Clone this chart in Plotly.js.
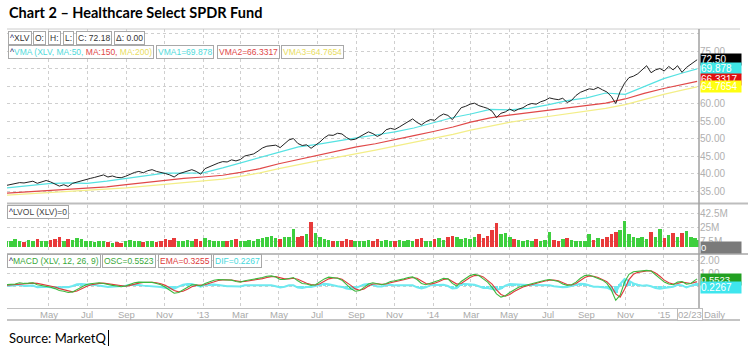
<!DOCTYPE html>
<html><head><meta charset="utf-8">
<script src="https://cdn.plot.ly/plotly-3.0.1.min.js"></script>
<style>html,body{margin:0;padding:0;background:#fff}#chart{width:750px;height:353px}</style>
</head><body><div id="chart"></div>
<script>
// ---------- DATA ----------
const firstWeek = '2012-02-24';
const lastDay = '2015-02-23';
const price = [
36.6,36.9,37.1,37.4,37.3,37.6,37.8,37.2,37.7,38.0,
37.6,37.1,36.4,36.8,36.3,37.2,37.6,37.9,38.4,38.6,
38.9,39.3,39.6,39.0,39.3,38.9,38.8,39.2,39.8,40.3,
40.6,40.2,40.8,41.1,40.6,40.4,40.0,39.6,39.0,39.9,
40.3,40.5,41.1,40.6,39.8,41.4,42.0,42.6,43.0,43.4,
43.3,43.9,43.6,44.0,45.0,45.3,45.6,46.4,47.3,47.8,
47.9,48.1,47.4,48.6,49.6,50.0,48.6,48.0,48.2,47.2,
48.0,49.0,50.2,51.0,50.9,51.5,51.3,50.3,49.6,49.8,
50.5,51.3,51.9,51.4,50.6,51.2,52.5,52.9,52.6,53.3,
54.1,54.9,55.6,54.6,53.9,54.8,55.4,55.2,56.3,57.0,
56.6,55.4,57.0,58.8,59.2,59.8,60.1,59.4,59.0,58.6,
57.8,56.0,57.2,57.6,58.4,57.8,58.4,58.8,59.6,60.0,
59.8,60.5,60.9,61.6,61.3,61.1,61.5,60.3,60.9,62.3,
63.2,63.7,64.2,64.0,64.6,63.9,63.3,62.0,60.0,63.4,
65.8,67.4,67.8,68.5,69.8,70.8,68.8,69.6,70.0,69.3,
70.6,69.6,70.8,68.9,70.3,71.2,72.0,72.5];
const volumeM = [
7,8,10,7,6,9,7,10,8,7,
9,10,12,8,10,9,11,10,8,7,
6,8,7,6,5,6,5,7,9,8,
7,6,7,8,6,7,10,9,11,7,
8,9,7,10,8,11,9,8,7,8,
7,9,10,8,7,9,8,10,11,12,
14,11,10,13,12,22,13,14,16,31,
18,12,10,9,8,7,8,10,9,8,
7,8,9,7,10,8,9,7,8,9,
8,9,7,10,11,8,7,10,11,9,
12,14,13,10,11,10,12,16,11,14,
21,30,16,18,12,10,9,8,9,8,
10,8,9,19,9,8,10,11,9,8,
7,8,16,9,11,10,12,16,19,21,
33,16,13,11,12,10,19,13,23,11,
15,17,13,17,20,12,11,9];
const macdOsc = [
0.1,0.1,0.15,0.25,0.2,0.22,0.25,0.1,0.05,0.0,
-0.1,-0.2,-0.35,-0.4,-0.5,-0.45,-0.25,-0.05,0.1,0.18,
0.22,0.25,0.2,0.1,0.05,0.0,-0.05,0.0,0.15,0.25,
0.3,0.3,0.3,0.28,0.2,0.1,-0.1,-0.3,-0.55,-0.5,
-0.3,-0.1,0.1,0.1,0.0,0.2,0.35,0.45,0.5,0.5,
0.45,0.45,0.35,0.3,0.4,0.45,0.5,0.55,0.65,0.75,
0.78,0.7,0.5,0.5,0.6,0.65,0.4,0.2,0.15,0.05,
0.1,0.3,0.55,0.68,0.65,0.6,0.45,0.1,-0.2,-0.4,
-0.35,-0.1,0.15,0.25,0.15,0.1,0.2,0.35,0.4,0.45,
0.55,0.65,0.7,0.5,0.2,0.1,0.2,0.3,0.45,0.6,
0.55,0.2,0.0,0.35,0.6,0.8,0.9,0.8,0.55,0.3,
-0.1,-0.6,-0.85,-0.75,-0.5,-0.3,-0.1,0.0,0.1,0.2,
0.3,0.35,0.45,0.5,0.45,0.35,0.15,0.05,0.1,0.3,
0.6,0.8,0.85,0.7,0.6,0.45,0.2,-0.3,-1.1,-0.7,
0.3,0.9,1.1,1.15,1.15,1.2,1.15,0.85,0.55,0.3,
0.15,0.1,0.3,0.35,0.15,0.2,0.45,0.55];
const macdEma = [
0.05,0.08,0.1,0.15,0.2,0.2,0.22,0.2,0.13,0.06,
0.0,-0.08,-0.2,-0.3,-0.4,-0.45,-0.38,-0.2,-0.05,0.08,
0.15,0.2,0.22,0.17,0.1,0.05,0.0,-0.02,0.05,0.15,
0.22,0.27,0.29,0.29,0.25,0.18,0.05,-0.12,-0.35,-0.45,
-0.4,-0.25,-0.05,0.05,0.05,0.1,0.22,0.33,0.42,0.47,
0.47,0.46,0.4,0.34,0.35,0.4,0.45,0.5,0.57,0.66,
0.72,0.72,0.62,0.55,0.55,0.6,0.52,0.35,0.22,0.12,
0.08,0.18,0.38,0.55,0.62,0.62,0.52,0.3,0.05,-0.22,
-0.32,-0.22,0.0,0.15,0.18,0.13,0.15,0.25,0.35,0.4,
0.48,0.57,0.65,0.6,0.38,0.2,0.15,0.22,0.35,0.5,
0.55,0.38,0.15,0.2,0.45,0.65,0.8,0.82,0.7,0.45,
0.15,-0.3,-0.65,-0.78,-0.65,-0.42,-0.22,-0.08,0.02,0.12,
0.22,0.3,0.38,0.45,0.46,0.4,0.25,0.12,0.08,0.2,
0.42,0.65,0.78,0.75,0.65,0.52,0.33,0.0,-0.6,-0.85,
-0.25,0.5,0.9,1.05,1.12,1.15,1.17,1.0,0.75,0.45,
0.25,0.15,0.2,0.3,0.25,0.2,0.3,0.33];
const macdDif = [
0.05,0.02,0.05,0.1,0.0,0.02,0.03,-0.1,-0.08,-0.06,
-0.1,-0.12,-0.15,-0.1,-0.1,0.0,0.13,0.15,0.15,0.1,
0.07,0.05,-0.02,-0.07,-0.05,-0.05,-0.05,0.02,0.1,0.1,
0.08,0.03,0.01,-0.01,-0.05,-0.08,-0.15,-0.18,-0.2,-0.05,
0.1,0.15,0.15,0.05,-0.05,0.1,0.13,0.12,0.08,0.03,
-0.02,-0.01,-0.05,-0.04,0.05,0.05,0.05,0.05,0.08,0.09,
0.06,-0.02,-0.12,-0.05,0.05,0.05,-0.12,-0.15,-0.07,-0.07,
0.02,0.12,0.17,0.13,0.03,-0.02,-0.07,-0.2,-0.25,-0.18,
-0.03,0.12,0.15,0.1,-0.03,-0.03,0.05,0.1,0.05,0.05,
0.07,0.08,0.05,-0.1,-0.18,-0.1,0.05,0.08,0.1,0.1,
0.0,-0.18,-0.15,0.15,0.15,0.15,0.1,-0.02,-0.15,-0.15,
-0.25,-0.3,-0.2,0.03,0.15,0.12,0.12,0.08,0.08,0.08,
0.08,0.05,0.07,0.05,-0.01,-0.05,-0.1,-0.07,0.02,0.1,
0.18,0.15,0.07,-0.05,-0.05,-0.07,-0.13,-0.3,-0.5,0.15,
0.55,0.4,0.2,0.1,0.03,0.05,-0.02,-0.15,-0.2,-0.15,
-0.1,-0.05,0.1,0.05,-0.1,0.0,0.15,0.22];
const maDates = ['2012-02-24','2012-04-01','2012-05-01','2012-06-01','2012-07-01','2012-08-01','2012-09-01','2012-10-01','2012-11-01','2012-12-01',
'2013-01-01','2013-02-01','2013-03-01','2013-04-01','2013-05-01','2013-06-01','2013-07-01','2013-08-01','2013-09-01','2013-10-01','2013-11-01','2013-12-01',
'2014-01-01','2014-02-01','2014-03-01','2014-04-01','2014-05-01','2014-06-01','2014-07-01','2014-08-01','2014-09-01','2014-10-01','2014-11-01','2014-12-01',
'2015-01-01','2015-02-01','2015-02-23'];
const ma50 = [35.9,36.6,37.1,37.3,37.2,37.8,38.6,39.4,40.1,40.1,40.2,41.6,43.0,44.5,46.2,47.6,48.3,49.3,50.2,51.0,51.9,53.0,54.6,56.0,57.0,58.3,58.2,58.6,59.6,60.8,61.6,63.0,62.6,64.8,67.1,68.8,69.878];
const ma150 = [34.4,34.8,35.2,35.5,35.8,36.2,36.8,37.4,37.9,38.6,39.0,39.5,40.3,41.4,42.8,44.0,45.1,46.4,47.6,48.5,49.6,50.8,52.0,53.3,54.7,55.9,56.7,57.4,58.0,58.7,59.4,60.1,61.3,62.9,64.3,65.6,66.3317];
const ma200 = [33.8,34.2,34.6,34.9,35.2,35.5,35.9,36.4,36.9,37.3,37.7,38.4,39.2,40.2,41.4,42.6,43.6,44.6,45.6,46.7,47.8,48.9,50.0,51.2,52.4,53.6,54.6,55.5,56.3,57.0,57.8,58.6,59.7,61.2,62.6,63.9,64.7654];
const xTickDates = ['2012-05-01','2012-07-01','2012-09-01','2012-11-01','2013-01-01','2013-03-01','2013-05-01','2013-07-01','2013-09-01','2013-11-01',
'2014-01-01','2014-03-01','2014-05-01','2014-07-01','2014-09-01','2014-11-01','2015-01-01'];
const xTickText = ['May','Jul','Sep','Nov',"'13",'Mar','May','Jul','Sep','Nov',"'14",'Mar','May','Jul','Sep','Nov',"'15"];
const priceTicks = [35,40,45,50,55,60,65,70,75,80];
const priceTickText = ['35.00','40.00','45.00','50.00','55.00','60.00','','','75.00',''];
const volTicks = [7.5,25,42.5];
const volTickText = ['7.5M','25M','42.5M'];
const macdTicks = [0,1,2];
const macdTickText = ['','1.00','2.00'];

// ---------- BUILD ----------
const DAY = 86400000;
const t0 = Date.UTC(2012,1,24);
const dates = [];
for (let i = 0; i < price.length - 1; i++) dates.push(new Date(t0 + i*7*DAY).toISOString().slice(0,10));
dates.push(lastDay);
const volColors = price.map((p,i) => (i === 0 || p >= price[i-1]) ? '#3ecf3e' : '#e83a3a');

const F = 'Liberation Sans, Arial, sans-serif';
const GRID = '#cfcfcf';
const L = 7, R = 699, T = 29, B = 308;
const px = v => (v - L) / (R - L);
const py = v => (B - v) / (B - T);

const traces = [
  {x: maDates, y: ma200, yaxis:'y', type:'scatter', mode:'lines', line:{color:'#f3ee88', width:1.2}},
  {x: maDates, y: ma150, yaxis:'y', type:'scatter', mode:'lines', line:{color:'#e04848', width:1.2}},
  {x: maDates, y: ma50, yaxis:'y', type:'scatter', mode:'lines', line:{color:'#55e2e2', width:1.2}},
  {x: dates, y: price, yaxis:'y', type:'scatter', mode:'lines', line:{color:'#222', width:1}},
  {x: dates, y: volumeM, yaxis:'y2', type:'bar', marker:{color: volColors, line:{width:0}}, width: 7*DAY*0.8},
  {x: dates, y: macdDif, yaxis:'y3', type:'bar', marker:{color:'#6ee9f0', line:{width:0}}, width: 7*DAY*0.8},
  {x: dates, y: macdDif, yaxis:'y3', type:'scatter', mode:'lines', line:{color:'#6ee9f0', width:2}},
  {x: dates, y: macdEma, yaxis:'y3', type:'scatter', mode:'lines', line:{color:'#dd3a3a', width:1.1}},
  {x: dates, y: macdOsc, yaxis:'y3', type:'scatter', mode:'lines', line:{color:'#3cb83c', width:1.1}}
];

// measure text to chain legend boxes side by side
const LFS = 8.5;
const ctx = document.createElement('canvas').getContext('2d');
ctx.font = LFS + 'px "Liberation Sans"';
const strip = s => s.replace(/<[^>]+>/g, '');
function chain(items, left, cy) {
  const out = [];
  let x = left;
  items.forEach(([text, color]) => {
    const w = ctx.measureText(strip(text)).width + 4;
    out.push({xref:'paper', yref:'paper', x: px(x), y: py(cy), xanchor:'left', yanchor:'middle',
      text, showarrow:false, font:{family:F, size:LFS, color}, bgcolor:'#fff', bordercolor:'#a8a8a8', borderwidth:1, borderpad:1});
    x += w + 2;
  });
  return out;
}
function rbox(text, yref, yval, bg, fg, fs) {
  return {xref:'paper', yref, x:1, y:yval, xanchor:'left', yanchor:'middle', xshift:1, text, showarrow:false,
    font:{family:F, size:fs||10, color: fg||'#fff'}, bgcolor:bg, borderpad:0, width:40, align:'left'};
}
const ICON = '<span style="color:#1a2a6c">^</span>';
const xLabelAnn = xTickDates.map((d,i) => ({xref:'x', yref:'paper', x:d, y:py(314), xanchor:'center', yanchor:'middle',
  showarrow:false, text:xTickText[i], font:{family:F, size:9.5, color:'#aaa'}}));
const annotations = [].concat(
  [{xref:'paper', yref:'paper', x:0, y:py(13), xanchor:'left', yanchor:'middle', showarrow:false,
    text:'<b>Chart 2 – Healthcare Select SPDR Fund</b>', font:{family:'Lato, sans-serif', size:14.5, color:'#000'}},
   {xref:'paper', yref:'paper', x:0, y:py(338), xanchor:'left', yanchor:'middle', showarrow:false,
    text:'Source: MarketQ', font:{family:'Lato, sans-serif', size:13, color:'#000'}}],
  chain([[ICON+'XLV','#333'],['O:','#333'],['H:','#333'],['L:','#333'],['C: 72.18','#333'],['Δ: 0.00','#333']], 8, 37.5),
  chain([[ICON+'<span style="color:#4fdada">VMA (XLV, MA:50,</span> <span style="color:#e04848">MA:150,</span> <span style="color:#e8dc60">MA:200)</span>','#4fdada'],
         ['VMA1=69.878','#4fdada'],['VMA2=66.3317','#e04848'],['VMA3=64.7654','#e8dc60']], 8, 51.5),
  chain([[ICON+'LVOL (XLV)=0','#444']], 7, 212),
  chain([[ICON+'<span style="color:#3aa83a">MACD (XLV, 12, 26, 9)</span>','#3aa83a'],['OSC=0.5523','#3aa83a'],
         ['EMA=0.3255','#dd3a3a'],['DIF=0.2267','#46d8dc']], 7, 261),
  [rbox('72.50', 'y', 72.5, '#000'),
   rbox('69.878', 'y', 69.878, '#3fe6e6'),
   rbox('66.3317', 'y', 67.0, '#e01010'),
   rbox('64.7654', 'y', 64.7654, '#ffff10'),
   rbox('0', 'y2', -1.2, '#7a7a7a', '#fff', 9.5),
   rbox('0.5523', 'y3', 0.5, '#22a022', '#fff', 9.5),
   rbox('0.2267', 'y3', -0.15, '#3fe6ee', '#fff', 10),
   {xref:'paper', yref:'paper', x:px(677), y:py(314), xanchor:'left', yanchor:'middle', showarrow:false, text:'02/23',
    font:{family:F, size:9.5, color:'#aaa'}, bordercolor:'#bbb', borderwidth:1, borderpad:0, bgcolor:'#fff'},
   {xref:'paper', yref:'paper', x:px(702), y:py(314), xanchor:'left', yanchor:'middle', showarrow:false, text:'Daily',
    font:{family:F, size:9.5, color:'#aaa'}}],
  xLabelAnn
);

const hline = (y, x0, x1, color, w) => ({type:'line', xref:'paper', yref:'paper', x0:px(x0), x1:px(x1), y0:py(y), y1:py(y), line:{color, width:w}});
const shapes = [
  hline(29, 7, 740, '#cccccc', 1),
  hline(203.5, 7, 748, '#bdbdbd', 2),
  hline(254, 7, 748, '#bdbdbd', 2),
  hline(320, 7, 740, '#c4c4c4', 2),
  {type:'line', xref:'paper', yref:'paper', x0:1, x1:1, y0:py(29), y1:py(320), line:{color:'#a0a0a0', width:1.5}},
  {type:'line', xref:'paper', yref:'paper', x0:px(108.5), x1:px(108.5), y0:py(330), y1:py(346), line:{color:'#000', width:1}}
];

const yCommon = {side:'right', showgrid:true, gridcolor:GRID, griddash:'dot', gridwidth:1, zeroline:false, showline:false, ticks:'',
  tickfont:{family:F, size:10, color:'#b0b0b0'}, fixedrange:true};
const layout = {
  width:750, height:353, margin:{l:L, r:750-R, t:T, b:353-B}, paper_bgcolor:'#fff', plot_bgcolor:'#fff', showlegend:false,
  bargap:0, barmode:'overlay',
  xaxis:{type:'date', range:['2012-02-25','2015-02-26'], anchor:'y3', tickmode:'array', tickvals:xTickDates, ticktext:xTickText,
    showticklabels:false, showgrid:true, gridcolor:GRID, griddash:'dot', zeroline:false,
    showline:true, linecolor:'#c0c0c0', ticks:''},
  yaxis: Object.assign({}, yCommon, {domain:[py(202),1], range:[31.86,81.29], tickmode:'array', tickvals:priceTicks, ticktext:priceTickText}),
  yaxis2: Object.assign({}, yCommon, {domain:[py(253),py(205)], range:[-7.5,52.5], tickmode:'array', tickvals:volTicks, ticktext:volTickText}),
  yaxis3: Object.assign({}, yCommon, {domain:[0,py(255)], range:[-1.69,2.385], tickmode:'array', tickvals:macdTicks, ticktext:macdTickText}),
  annotations, shapes
};
Plotly.newPlot('chart', traces, layout, {staticPlot:true, displayModeBar:false});
</script></body></html>
